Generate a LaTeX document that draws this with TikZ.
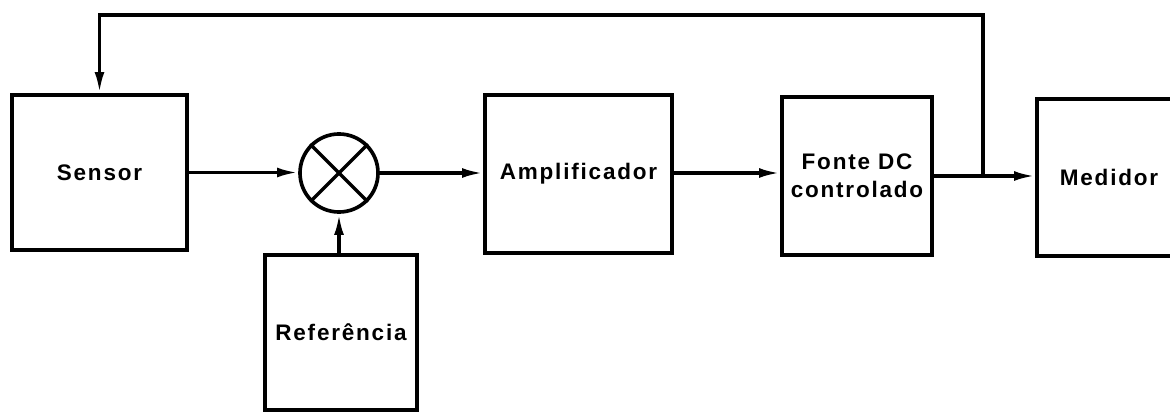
\documentclass[tikz,border=0pt]{standalone}
\usepackage{fontspec}
\setmainfont{Liberation Sans}
\usetikzlibrary{arrows.meta}
\newfontfamily\blockfont[LetterSpace=8]{Liberation Sans Bold}

\tikzset{
  blockbox/.style={draw, line width=2.6pt, inner sep=0pt, font=\blockfont\fontsize{16}{19}\selectfont, align=center},
  sumnode/.style={draw, circle, line width=2.6pt, inner sep=0pt, minimum size=1.95cm},
  wire/.style={line width=2.4pt},
  signal/.style={wire, -{Latex[length=15pt,width=7pt]}}
}

\begin{document}
\begin{tikzpicture}[x=0.025cm, y=-0.025cm]
  \useasboundingbox (0,0) rectangle (1170,412);
  \clip (0,0) rectangle (1170,412);

  % blocks of the control loop
  \node[blockbox, minimum width=4.375cm, minimum height=3.875cm] (sensor) at (99.5,172.5) {Sensor};
  \node[sumnode] (sum) at (339,173) {};
  \node[blockbox, minimum width=3.8cm, minimum height=3.875cm] (ref) at (341,332.5) {Referência};
  \node[blockbox, minimum width=4.675cm, minimum height=3.95cm] (amp) at (578.5,174) {Amplificador};
  \node[blockbox, minimum width=3.75cm, minimum height=3.95cm] (fonte) at (857,176) {Fonte\hspace{0.35em}DC\\[1pt]controlado};
  \node[blockbox, minimum width=3.6cm, minimum height=3.925cm] (medidor) at (1109,177.5) {Medidor};

  % cross inside the comparator
  \draw[wire] (sum.north east) -- (sum.south west);
  \draw[wire] (sum.north west) -- (sum.south east);

  % forward path
  \draw[signal] (sensor.east) -- (sensor.east -| sum.west);
  \draw[signal] (ref.north -| sum.south) -- (sum.south);
  \draw[signal] (sum.east) -- (sum.east -| amp.west);
  \draw[signal] (amp.east |- sum.east) -- (sum.east -| fonte.west);
  \draw[signal] (fonte.east) -- (fonte.east -| medidor.west);

  % feedback from the output back to the sensor
  \coordinate (junc) at (983,176);
  \coordinate (top) at (983,15);
  \draw[signal] (junc) -- (top) -| (sensor.north);
\end{tikzpicture}
\end{document}
